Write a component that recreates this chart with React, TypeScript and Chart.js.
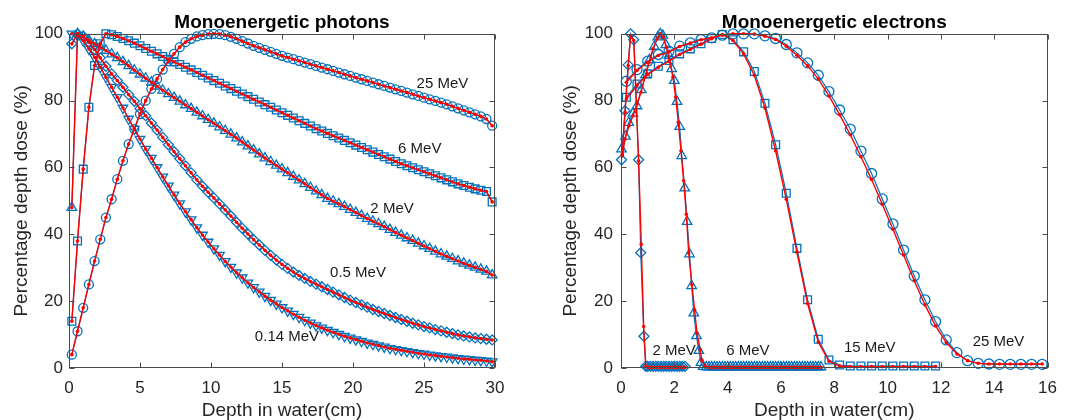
import React, { useEffect, useRef } from "react";
import { Chart, registerables } from "chart.js";

Chart.register(...registerables);

const FONT = "'Liberation Sans', Arial, Helvetica, sans-serif";
const TEXT = "#262626";
const BLUE = "#0072BD";
const RED = "#FF0000";

// ---------------- Photons (depth in cm, dose in %) ----------------
const photonDepth = [
  0.2, 0.6, 1.0, 1.4, 1.8, 2.2, 2.6, 3.0, 3.4, 3.8,
  4.2, 4.6, 5.0, 5.4, 5.8, 6.2, 6.6, 7.0, 7.4, 7.8,
  8.2, 8.6, 9.0, 9.4, 9.8, 10.2, 10.6, 11.0, 11.4, 11.8,
  12.2, 12.6, 13.0, 13.4, 13.8, 14.2, 14.6, 15.0, 15.4, 15.8,
  16.2, 16.6, 17.0, 17.4, 17.8, 18.2, 18.6, 19.0, 19.4, 19.8,
  20.2, 20.6, 21.0, 21.4, 21.8, 22.2, 22.6, 23.0, 23.4, 23.8,
  24.2, 24.6, 25.0, 25.4, 25.8, 26.2, 26.6, 27.0, 27.4, 27.8,
  28.2, 28.6, 29.0, 29.4, 29.8,
];
const photonDose25MeV = [
  4, 11, 18, 25, 32, 38.5, 45, 50.5, 56.5, 62,
  67, 71.5, 76, 80, 83.5, 86.5, 89.3, 91.8, 94, 96,
  97.5, 98.5, 99.2, 99.6, 99.9, 100, 99.9, 99.6, 99.1, 98.5,
  97.8, 97.1, 96.4, 95.8, 95.2, 94.6, 94, 93.4, 92.9, 92.4,
  91.9, 91.4, 90.9, 90.4, 89.9, 89.4, 88.9, 88.4, 87.9, 87.4,
  86.9, 86.4, 85.9, 85.4, 84.9, 84.4, 83.9, 83.4, 82.9, 82.4,
  81.9, 81.4, 80.9, 80.4, 79.9, 79.4, 78.9, 78.3, 77.7, 77.1,
  76.5, 75.9, 75.3, 74.5, 72.5,
];
const photonDose6MeV = [
  14, 38, 59.5, 78, 90.5, 97, 100, 99.7, 99.2, 98.6,
  97.9, 97.2, 96.4, 95.6, 94.8, 94, 93.2, 92.4, 91.6, 90.8,
  90, 89.2, 88.4, 87.6, 86.8, 86, 85.2, 84.4, 83.6, 82.8,
  82, 81.2, 80.4, 79.6, 78.8, 78, 77.2, 76.4, 75.6, 74.8,
  74, 73.2, 72.4, 71.6, 70.9, 70.2, 69.5, 68.8, 68.1, 67.4,
  66.7, 66, 65.3, 64.6, 63.9, 63.2, 62.5, 61.8, 61.1, 60.5,
  59.9, 59.3, 58.7, 58.1, 57.5, 56.9, 56.3, 55.7, 55.1, 54.6,
  54.1, 53.6, 53.2, 52.8, 49.7,
];
const photonDose2MeV = [
  48, 100, 99.2, 98.1, 97, 96, 95, 93.9, 92.8, 91.6,
  90.4, 89.1, 87.9, 86.7, 85.5, 84.3, 83.1, 82, 80.9, 79.8,
  78.7, 77.6, 76.5, 75.4, 74.3, 73.2, 72.1, 71, 69.9, 68.8,
  67.6, 66.4, 65.2, 64, 62.8, 61.7, 60.6, 59.5, 58.4, 57.3,
  56.2, 55.1, 54, 52.9, 51.8, 50.7, 49.9, 49.1, 48.3, 47.4,
  46.5, 45.6, 44.7, 43.9, 43.1, 42.3, 41.4, 40.5, 39.7, 38.9,
  38.1, 37.3, 36.5, 35.7, 34.9, 34.1, 33.4, 32.7, 32, 31.3,
  30.7, 30.1, 29.5, 28.9, 27.8,
];
const photonDose05MeV = [
  97, 100, 99.3, 97.5, 95.3, 92.8, 90.3, 88, 86, 84,
  81.8, 79.8, 77.6, 75.5, 73.3, 71.2, 69, 66.8, 64.7, 62.6,
  60.5, 58.4, 56.3, 54.4, 52.6, 50.9, 49.1, 47.3, 45.5, 43.6,
  41.8, 40.1, 38.4, 36.8, 35.2, 33.7, 32.3, 31, 29.8, 28.7,
  27.7, 26.8, 25.9, 25.1, 24.3, 23.5, 22.7, 21.9, 21.1, 20.3,
  19.6, 18.9, 18.2, 17.5, 16.9, 16.3, 15.7, 15.1, 14.5, 14,
  13.4, 12.9, 12.4, 12, 11.5, 11.1, 10.7, 10.3, 9.9, 9.6,
  9.3, 9, 8.8, 8.6, 8.4,
];
const photonDose014MeV = [
  100, 99.5, 98, 95.5, 93, 90, 87, 84, 81, 77.8,
  74.5, 71.5, 68.5, 65.5, 62.8, 60, 57.2, 54.5, 51.8, 49.2,
  46.8, 44.4, 42, 39.8, 37.7, 35.7, 33.8, 31.9, 30.2, 28.5,
  27, 25.5, 24.1, 22.8, 21.5, 20.3, 19.2, 18.1, 17.1, 16.1,
  15.2, 14.3, 13.5, 12.7, 12, 11.3, 10.7, 10.1, 9.5, 9,
  8.5, 8, 7.5, 7.1, 6.7, 6.3, 5.9, 5.6, 5.3, 5,
  4.7, 4.4, 4.2, 3.9, 3.7, 3.5, 3.3, 3.1, 2.9, 2.7,
  2.6, 2.4, 2.3, 2.1, 1.9,
];

// ---------------- Electrons (depth in cm, dose in %) ----------------
const e2BlueDepth = [0.02, 0.15, 0.27, 0.36, 0.48, 0.66, 0.74, 0.86, 0.93, 1.0, 1.1, 1.2, 1.3, 1.4, 1.5, 1.6, 1.7, 1.8, 1.9, 2.0, 2.1, 2.2, 2.3, 2.4];
const e2BlueDose = [62.3, 77, 90.7, 100, 98.2, 62.3, 34.5, 9.5, 0.5, 0.5, 0.5, 0.5, 0.5, 0.5, 0.5, 0.5, 0.5, 0.5, 0.5, 0.5, 0.5, 0.5, 0.5, 0.5];
const e2RedDepth = [0.05, 0.15, 0.27, 0.36, 0.48, 0.66, 0.76, 0.85, 0.93, 1.0, 1.1, 1.2, 1.3, 1.4, 1.5, 1.6, 1.7, 1.8, 1.9, 2.0, 2.1, 2.2, 2.3, 2.4];
const e2RedDose = [64, 76.5, 90.5, 99.5, 98, 62, 37, 12.4, 0.6, 0.2, 0.2, 0.2, 0.2, 0.2, 0.2, 0.2, 0.2, 0.2, 0.2, 0.2, 0.2, 0.2, 0.2, 0.2];

const e6BlueDepth = [
  0.02, 0.17, 0.29, 0.45, 0.6, 0.76, 0.92, 1.07, 1.25, 1.38, 1.47, 1.57, 1.68, 1.8,
  1.9, 2.0, 2.1, 2.2, 2.28, 2.39, 2.48, 2.57, 2.65, 2.73, 2.83, 2.92, 3.0, 3.08,
  3.2, 3.3, 3.4, 3.5, 3.6, 3.7, 3.8, 3.9, 4.0, 4.1, 4.2, 4.3, 4.4, 4.5, 4.6, 4.7,
  4.8, 4.9, 5.0, 5.1, 5.2, 5.3, 5.4, 5.5, 5.6, 5.7, 5.8, 5.9, 6.0, 6.1, 6.2, 6.3,
  6.4, 6.5, 6.6, 6.7, 6.8, 6.9, 7.0, 7.1, 7.2, 7.3, 7.4, 7.5,
];
const e6BlueDose = [
  65.5, 69.3, 73.4, 76.2, 78.4, 83.2, 87.7, 92.2, 96.2, 99, 100, 99.5, 96.7, 93.5,
  89.5, 86, 79.7, 72.2, 63.5, 53.8, 43.8, 34.1, 24.6, 16.4, 9.6, 5.2, 1.6, 0.4,
  0.3, 0.3, 0.3, 0.3, 0.3, 0.3, 0.3, 0.3, 0.3, 0.3, 0.3, 0.3, 0.3, 0.3, 0.3, 0.3,
  0.3, 0.3, 0.3, 0.3, 0.3, 0.3, 0.3, 0.3, 0.3, 0.3, 0.3, 0.3, 0.3, 0.3, 0.3, 0.3,
  0.3, 0.3, 0.3, 0.3, 0.3, 0.3, 0.3, 0.3, 0.3, 0.3, 0.3, 0.3,
];
const e6RedDepth = [
  0.05, 0.15, 0.3, 0.45, 0.6, 0.75, 0.9, 1.05, 1.2, 1.35, 1.47, 1.58, 1.7, 1.82,
  1.95, 2.05, 2.15, 2.25, 2.35, 2.45, 2.54, 2.66, 2.76, 2.85, 2.97, 3.03, 3.16,
  3.3, 3.4, 3.5, 3.6, 3.7, 3.8, 3.9, 4.0, 4.1, 4.2, 4.3, 4.4, 4.5, 4.6, 4.7,
  4.8, 4.9, 5.0, 5.1, 5.2, 5.3, 5.4, 5.5, 5.6, 5.7, 5.8, 5.9, 6.0, 6.1, 6.2, 6.3,
  6.4, 6.5, 6.6, 6.7, 6.8, 6.9, 7.0, 7.1, 7.2, 7.3, 7.4, 7.5,
];
const e6RedDose = [
  63.5, 68.5, 72.5, 75.5, 79, 82.5, 87, 91.5, 95.5, 98.5, 100, 99, 96, 92,
  87, 81, 73.5, 65, 56, 46, 34.4, 24.9, 17.4, 10.4, 5.4, 2.4, 0.4,
  0.2, 0.2, 0.2, 0.2, 0.2, 0.2, 0.2, 0.2, 0.2, 0.2, 0.2, 0.2, 0.2, 0.2, 0.2,
  0.2, 0.2, 0.2, 0.2, 0.2, 0.2, 0.2, 0.2, 0.2, 0.2, 0.2, 0.2, 0.2, 0.2, 0.2, 0.2,
  0.2, 0.2, 0.2, 0.2, 0.2, 0.2, 0.2, 0.2, 0.2, 0.2, 0.2, 0.2,
];

const e15Depth = [0.2, 0.6, 1.0, 1.4, 1.8, 2.2, 2.6, 3.0, 3.4, 3.8, 4.2, 4.6, 5.0, 5.4, 5.8, 6.2, 6.6, 7.0, 7.4, 7.8, 8.2, 8.6, 9.0, 9.4, 9.8, 10.2, 10.6, 11.0, 11.4, 11.8];
const e15BlueDose = [81, 85, 88, 90.3, 92, 94, 95.5, 97, 98.6, 99.8, 98.2, 94.6, 88.7, 79.2, 66.8, 52.3, 35.8, 20.4, 8.6, 2.4, 0.9, 0.6, 0.6, 0.6, 0.6, 0.6, 0.6, 0.6, 0.6, 0.6];
const e15RedDose = [80.5, 84.5, 87.8, 90, 91.8, 93.8, 95.3, 96.9, 98.5, 99.8, 98, 94, 87.6, 77.8, 65, 50.5, 34.6, 19.3, 7.8, 2, 0.6, 0.4, 0.4, 0.4, 0.4, 0.4, 0.4, 0.4, 0.4, 0.4];

const e25Depth = [
  0.2, 0.6, 1.0, 1.4, 1.8, 2.2, 2.6, 3.0, 3.4, 3.8,
  4.2, 4.6, 5.0, 5.4, 5.8, 6.2, 6.6, 7.0, 7.4, 7.8,
  8.2, 8.6, 9.0, 9.4, 9.8, 10.2, 10.6, 11.0, 11.4, 11.8,
  12.2, 12.6, 13.0, 13.4, 13.8, 14.2, 14.6, 15.0, 15.4, 15.8,
];
const e25BlueDose = [
  85.8, 89.3, 91.8, 93.8, 94.8, 96.3, 97.3, 98.3, 98.8, 99.6,
  100, 100, 100, 99.4, 98.6, 96.8, 94.3, 91.3, 87.6, 82.7,
  77.2, 71.5, 64.9, 58.2, 50.6, 43.1, 35.3, 27.5, 20.4, 13.9,
  8.4, 4.6, 2.2, 1.4, 1.2, 1.1, 1.1, 1.1, 1.1, 1.1,
];
const e25RedDose = [
  85.5, 89, 91.5, 93.5, 94.6, 96.2, 97.2, 98.2, 98.8, 99.6,
  100, 100, 99.9, 99.3, 98.3, 96.3, 93.6, 90.4, 86.5, 81.4,
  75.8, 69.8, 63.2, 56.4, 49, 41.5, 33.8, 26.1, 18.9, 12.6,
  7.6, 4.2, 2.2, 1.4, 1.2, 1.2, 1.2, 1.2, 1.2, 1.2,
];

// ---------------- ticks & labels ----------------
const photonXTicks = [0, 5, 10, 15, 20, 25, 30];
const electronXTicks = [0, 2, 4, 6, 8, 10, 12, 14, 16];
const doseTicks = [0, 20, 40, 60, 80, 100];

const photonLabels = ["25 MeV", "6 MeV", "2 MeV", "0.5 MeV", "0.14 MeV"];
const electronLabels = ["2 MeV", "6 MeV", "15 MeV", "25 MeV"];

// label anchor points (data coordinates)
const photonLabelAnchors = [[26.3, 85], [24.7, 65.6], [22.75, 47.6], [20.35, 28.4], [15.35, 9.3]];
const electronLabelAnchors = [[1.99, 5.1], [4.76, 5.1], [9.33, 6], [14.16, 7.8]];

// ---------------- helpers ----------------
const pts = (xs: number[], ys: number[]) => xs.map((x, i) => ({ x, y: ys[i] }));

type Series = {
  blueX: number[]; blueY: number[]; redX: number[]; redY: number[];
  marker: string; rotation: number; radius: number;
};

const photonSeries: Series[] = [
  { blueX: photonDepth, blueY: photonDose25MeV, redX: photonDepth, redY: photonDose25MeV, marker: "circle", rotation: 0, radius: 4.5 },
  { blueX: photonDepth, blueY: photonDose6MeV, redX: photonDepth, redY: photonDose6MeV, marker: "rect", rotation: 0, radius: 5.5 },
  { blueX: photonDepth, blueY: photonDose2MeV, redX: photonDepth, redY: photonDose2MeV, marker: "triangle", rotation: 0, radius: 5.5 },
  { blueX: photonDepth, blueY: photonDose05MeV, redX: photonDepth, redY: photonDose05MeV, marker: "rectRot", rotation: 0, radius: 5 },
  { blueX: photonDepth, blueY: photonDose014MeV, redX: photonDepth, redY: photonDose014MeV, marker: "triangle", rotation: 180, radius: 5.5 },
];

const electronSeries: Series[] = [
  { blueX: e2BlueDepth, blueY: e2BlueDose, redX: e2RedDepth, redY: e2RedDose, marker: "rectRot", rotation: 0, radius: 5 },
  { blueX: e6BlueDepth, blueY: e6BlueDose, redX: e6RedDepth, redY: e6RedDose, marker: "triangle", rotation: 0, radius: 5.5 },
  { blueX: e15Depth, blueY: e15BlueDose, redX: e15Depth, redY: e15RedDose, marker: "rect", rotation: 0, radius: 5.5 },
  { blueX: e25Depth, blueY: e25BlueDose, redX: e25Depth, redY: e25RedDose, marker: "circle", rotation: 0, radius: 5 },
];

type PanelParams = {
  title: string;
  series: Series[];
  xMax: number;
  xTicks: number[];
  labels: string[];
  anchors: number[][];
  yWidth: number;
  yTitlePad: number;
  yTickPad: number;
  padRight: number;
};

function makeConfig(p: PanelParams): any {
  const datasets: any[] = [];
  p.series.forEach((s) => {
    datasets.push({
      data: pts(s.redX, s.redY),
      showLine: true,
      borderColor: RED,
      backgroundColor: RED,
      borderWidth: 1.4,
      pointRadius: 1.8,
      pointStyle: "circle",
      pointBackgroundColor: RED,
      pointBorderColor: RED,
      pointBorderWidth: 0,
      tension: 0,
      order: 0,
      clip: false,
    });
    datasets.push({
      data: pts(s.blueX, s.blueY),
      showLine: true,
      borderColor: BLUE,
      backgroundColor: "rgba(0,0,0,0)",
      borderWidth: 1.2,
      pointRadius: s.radius,
      pointStyle: s.marker,
      pointRotation: s.rotation,
      pointBackgroundColor: "rgba(0,0,0,0)",
      pointBorderColor: BLUE,
      pointBorderWidth: 1.3,
      tension: 0,
      order: 1,
      clip: false,
    });
  });

  const overlay = {
    id: "overlay",
    afterDatasetsDraw(chart: any) {
      const { ctx, chartArea: a, scales } = chart;
      const xs = scales.x;
      const ys = scales.y;
      ctx.save();
      ctx.strokeStyle = "#4a4a4a";
      ctx.lineWidth = 1;
      const L = Math.round(a.left) + 0.5;
      const R = Math.round(a.right) - 0.5;
      const T = Math.round(a.top) + 0.5;
      const B = Math.round(a.bottom) - 0.5;
      ctx.strokeRect(L, T, R - L, B - T);
      ctx.beginPath();
      p.xTicks.forEach((v) => {
        const px = Math.round(xs.getPixelForValue(v)) + 0.5;
        ctx.moveTo(px, B); ctx.lineTo(px, B - 5);
        ctx.moveTo(px, T); ctx.lineTo(px, T + 5);
      });
      doseTicks.forEach((v) => {
        const py = Math.round(ys.getPixelForValue(v)) + 0.5;
        ctx.moveTo(L, py); ctx.lineTo(L + 5, py);
        ctx.moveTo(R, py); ctx.lineTo(R - 5, py);
      });
      ctx.stroke();
      ctx.fillStyle = "#1a1a1a";
      ctx.font = `15px ${FONT}`;
      ctx.textAlign = "center";
      ctx.textBaseline = "middle";
      p.labels.forEach((t, i) => {
        ctx.fillText(t, xs.getPixelForValue(p.anchors[i][0]), ys.getPixelForValue(p.anchors[i][1]));
      });
      ctx.restore();
    },
  };

  return {
    type: "scatter",
    data: { datasets },
    plugins: [overlay],
    options: {
      responsive: false,
      animation: false,
      events: [],
      layout: { padding: { left: 0, right: p.padRight, top: 1, bottom: 0 } },
      plugins: {
        legend: { display: false },
        tooltip: { enabled: false },
        title: {
          display: true,
          text: p.title,
          color: "#000",
          font: { family: FONT, size: 19, weight: "bold", lineHeight: 1.2 },
          padding: { top: 10, bottom: 0 },
          fullSize: false,
        },
      },
      scales: {
        x: {
          type: "linear",
          min: 0,
          max: p.xMax,
          afterBuildTicks: (sc: any) => { sc.ticks = p.xTicks.map((v) => ({ value: v })); },
          ticks: { font: { family: FONT, size: 17 }, color: TEXT, padding: 10, maxRotation: 0, autoSkip: false },
          grid: { display: false, drawTicks: false },
          border: { display: false },
          title: {
            display: true,
            text: "Depth in water(cm)",
            color: TEXT,
            font: { family: FONT, size: 19, lineHeight: 1 },
            padding: { top: 0, bottom: 0 },
          },
          afterFit: (sc: any) => { sc.height = 52; },
        },
        y: {
          type: "linear",
          min: 0,
          max: 100,
          afterBuildTicks: (sc: any) => { sc.ticks = doseTicks.map((v) => ({ value: v })); },
          ticks: { font: { family: FONT, size: 17 }, color: TEXT, padding: p.yTickPad, autoSkip: false },
          grid: { display: false, drawTicks: false },
          border: { display: false },
          title: {
            display: true,
            text: "Percentage depth dose (%)",
            color: TEXT,
            font: { family: FONT, size: 19, lineHeight: 1 },
            padding: { top: p.yTitlePad, bottom: 0 },
          },
          afterFit: (sc: any) => { sc.width = p.yWidth; },
        },
      },
    },
  };
}

function Panel({ params, left, width }: { params: PanelParams; left: number; width: number }) {
  const ref = useRef<HTMLCanvasElement>(null);
  useEffect(() => {
    const chart = new Chart(ref.current as HTMLCanvasElement, makeConfig(params));
    return () => chart.destroy();
  }, []);
  return (
    <canvas
      ref={ref}
      width={width}
      height={420}
      style={{ position: "absolute", left, top: 0, width, height: 420 }}
    />
  );
}

export default function App() {
  const photonParams: PanelParams = {
    title: "Monoenergetic photons",
    series: photonSeries,
    xMax: 30,
    xTicks: photonXTicks,
    labels: photonLabels,
    anchors: photonLabelAnchors,
    yWidth: 69,
    yTitlePad: 12,
    yTickPad: 6,
    padRight: 38,
  };
  const electronParams: PanelParams = {
    title: "Monoenergetic electrons",
    series: electronSeries,
    xMax: 16,
    xTicks: electronXTicks,
    labels: electronLabels,
    anchors: electronLabelAnchors,
    yWidth: 88,
    yTitlePad: 28.5,
    yTickPad: 8,
    padRight: 12,
  };
  return (
    <div style={{ position: "absolute", left: 0, top: 0, width: 1067, height: 420, background: "#fff" }}>
      <Panel params={photonParams} left={0} width={533} />
      <Panel params={electronParams} left={533} width={534} />
    </div>
  );
}
